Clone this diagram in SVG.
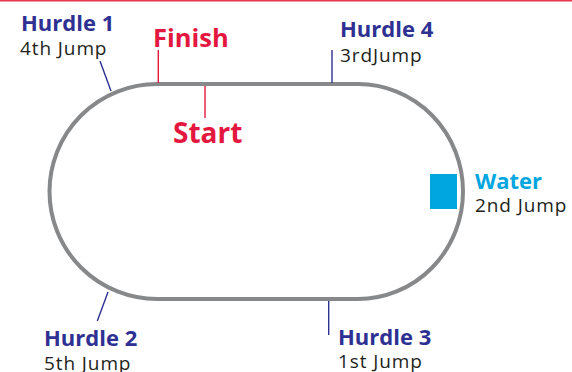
<svg xmlns="http://www.w3.org/2000/svg" width="572" height="372" viewBox="0 0 572 372">
<style>
.t{font-family:"Open Sans","Noto Sans",sans-serif}
.h{font-weight:bold;font-size:22px;fill:#2e3192}
.j{font-size:19px;fill:#231f20;letter-spacing:0.9px}
.r{font-weight:bold;fill:#e4173e}
.w{font-weight:bold;font-size:22px;fill:#00a6e0}
.lb{stroke:#2e3192;stroke-width:1.4;fill:none}
.lr{stroke:#e4173e;stroke-width:1.4;fill:none}
</style>
<rect x="0" y="0" width="572" height="372" fill="#fff"/>
<rect x="0" y="0" width="572" height="1.5" fill="#e63950"/>
<g id="track">
<path d="M157,84 H358 A105,107.5 0 0 1 358,299 H157 A107.5,107.5 0 0 1 157,84 Z" fill="none" stroke="#87888a" stroke-width="4"/>
</g>
<g id="connectors">
<line class="lb" x1="100" y1="61" x2="111" y2="91"/>
<line class="lr" x1="158.3" y1="50" x2="158.3" y2="83"/>
<line class="lr" x1="205" y1="86" x2="205" y2="118"/>
<line class="lb" x1="332" y1="50" x2="332" y2="83"/>
<line class="lb" x1="108" y1="292" x2="97.3" y2="321"/>
<line class="lb" x1="328.7" y1="301" x2="328.7" y2="335"/>
</g>
<g id="hurdle1" class="t">
<text class="h" x="21" y="31">Hurdle 1</text>
<text class="j" x="20" y="55">4th Jump</text>
</g>
<g id="finish" class="t">
<text class="r" x="153" y="46.7" font-size="25.5">Finish</text>
</g>
<g id="start" class="t">
<text class="r" x="173" y="142.7" font-size="28">Start</text>
</g>
<g id="hurdle4" class="t">
<text class="h" x="340" y="36.5">Hurdle 4</text>
<text class="j" x="340" y="61.5">3rdJump</text>
</g>
<g id="water" class="t">
<rect x="430" y="174" width="27" height="35" fill="#00a6e0"/>
<text class="w" x="475" y="189">Water</text>
<text class="j" x="475" y="211.5">2nd Jump</text>
</g>
<g id="hurdle2" class="t">
<text class="h" x="44" y="346">Hurdle 2</text>
<text class="j" x="44" y="370">5th Jump</text>
</g>
<g id="hurdle3" class="t">
<text class="h" x="338" y="345">Hurdle 3</text>
<text class="j" x="338" y="368">1st Jump</text>
</g>
</svg>
